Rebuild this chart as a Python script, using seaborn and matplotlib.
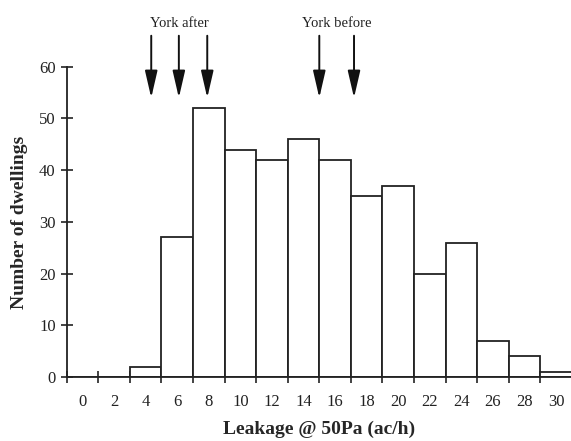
import numpy as np
import pandas as pd
import matplotlib
matplotlib.use("Agg")
import matplotlib.pyplot as plt
import seaborn as sns

# -------------------------------
# Data
# -------------------------------

bin_centres = [0, 2, 4, 6, 8, 10, 12, 14, 16, 18, 20, 22, 24, 26, 28, 30]
dwellings = [0, 0, 2, 27, 52, 44, 42, 46, 42, 35, 37, 20, 26, 7, 4, 1]

york_after = [4.35, 6.1, 7.9]
york_before = [15.0, 17.2]

df = pd.DataFrame({"leakage": bin_centres, "count": dwellings})

# -------------------------------
# Plot
# -------------------------------

sns.set_theme(style="ticks")
plt.rcParams["font.family"] = ["Liberation Serif", "DejaVu Serif"]

fig = plt.figure(figsize=(5.71, 4.41), dpi=100)
ax = fig.add_axes([0.117, 0.145, 0.883, 0.7036])

# bins of width 2 centred on the labelled values
sns.histplot(data=df, x="leakage", weights="count", binwidth=2, binrange=(-1, 31),
             ax=ax, color="white", edgecolor="#222222", linewidth=1.3, alpha=1)

ax.set_xlim(-1, 30.95)
ax.set_ylim(0, 60)

# tick marks at bin edges, labels at bin centres
edges = [c - 1 for c in bin_centres]
ax.set_xticks(edges)
ax.set_xticklabels([])
ax.set_xticks(bin_centres, minor=True)
ax.set_xticklabels([str(c) for c in bin_centres], minor=True, fontsize=12, color="#222222")
ax.tick_params(axis="x", which="major", direction="inout", length=9, width=1.2, color="#222222")
ax.tick_params(axis="x", which="minor", length=0, pad=12)
ax.set_yticks(range(0, 61, 10))
ax.tick_params(axis="y", direction="inout", length=9, width=1.2, color="#222222",
               labelsize=12, labelcolor="#222222")

for side in ["top", "right"]:
    ax.spines[side].set_visible(False)
for side in ["left", "bottom"]:
    ax.spines[side].set_linewidth(1.3)
    ax.spines[side].set_color("#222222")

ax.set_xlabel("Leakage @ 50Pa (ac/h)", fontsize=14, fontweight="bold", labelpad=8)
ax.set_ylabel("Number of dwellings", fontsize=14, fontweight="bold", labelpad=8)

# arrows
for xa in york_after + york_before:
    ax.annotate("", xy=(xa, 54), xytext=(xa, 66), annotation_clip=False,
                arrowprops=dict(arrowstyle="-|>,head_length=1.65,head_width=0.38",
                                mutation_scale=10, shrinkA=0, shrinkB=0,
                                color="#111111", lw=1.4))
ax.text(np.mean(york_after), 68.4, "York after", ha="center", va="center",
        fontsize=10.5, color="#222222", clip_on=False)
ax.text(16.1, 68.4, "York before", ha="center", va="center",
        fontsize=10.5, color="#222222", clip_on=False)

fig.savefig("out.png", dpi=100)
